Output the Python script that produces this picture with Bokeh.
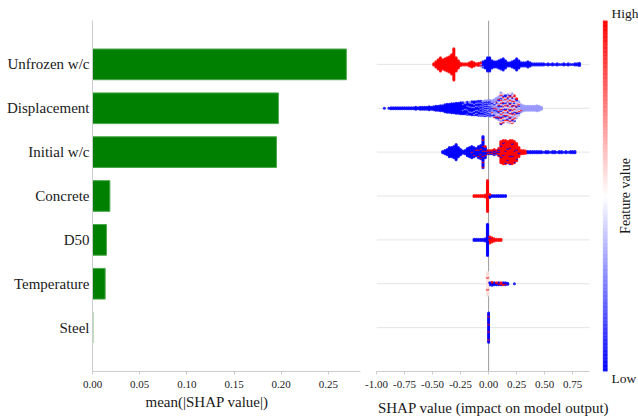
import numpy as np
from bokeh.plotting import figure
from bokeh.layouts import row
from bokeh.models import (Range1d, FixedTicker, PrintfTickFormatter, Span, ColumnDataSource,
                          Label, Title)
from bokeh.transform import linear_cmap
from bokeh.embed import file_html
from bokeh.resources import INLINE

# ---------------------------------------------------------------- data
FEATURES = ["Unfrozen w/c", "Displacement", "Initial w/c", "Concrete",
            "D50", "Temperature", "Steel"]
MEAN_ABS_SHAP = [0.269, 0.197, 0.195, 0.0184, 0.0148, 0.0134, 0.0004]

BAR_TICKS = [0.00, 0.05, 0.10, 0.15, 0.20, 0.25]
SWARM_TICKS = [-1.00, -0.75, -0.50, -0.25, 0.00, 0.25, 0.50, 0.75]
SWARM_LIMITS = (-1.0, 0.9)

# SHAP values are binned at 0.02; each list holds the number of samples per
# bin (starting at the feature's first bin), split by feature-value level.
BIN_WIDTH = 0.02
LEVELS = {"low": 0.0, "mid": 0.3, "pale": 0.56, "high": 1.0}

UNFROZEN_START = -0.49
UNFROZEN_HIGH = [2, 6, 10, 14, 10, 12, 14, 16, 20, 32, 14, 8, 3, 2, 2, 2, 4, 6, 4, 2, 3, 2]
UNFROZEN_MID = [0] * 21 + [2, 1]
UNFROZEN_LOW = [0] * 22 + [5, 8, 14, 14, 8, 6, 6, 8, 10, 12, 8, 4, 4, 6, 8, 12, 8, 4, 4, 4,
                           6, 4, 2, 2, 2, 2, 2, 2, 1, 2, 1, 2, 1, 2, 1, 1, 2, 1, 2, 1, 1,
                           2, 2, 3]

DISPLACEMENT_START = -0.93
DISPLACEMENT_LOW = [1, 0, 1, 2, 2, 2, 2, 2, 2, 2, 2, 2, 2, 2, 3, 2, 3, 3, 3, 3, 4, 3, 4,
                    5, 5, 6, 6, 8, 9, 9, 10, 10, 11, 11, 12,
                    10, 10, 10, 10, 11, 10, 10, 11, 10,
                    8, 8, 7, 7, 3, 3, 3, 4, 5, 5, 4, 4, 4, 4, 3, 3, 2]
DISPLACEMENT_MID = [0] * 35 + [2, 2, 3, 3, 3, 4, 4, 4, 5, 7, 8, 9, 10, 11, 12, 13, 14,
                               11, 10, 9, 10, 10, 10, 9, 8, 6, 7, 6, 5, 5, 5, 5, 5, 6, 5, 3]
DISPLACEMENT_PALE = [0] * 48 + [1, 1, 2, 2, 9, 9, 8, 8, 9, 9, 8, 6, 4]
DISPLACEMENT_HIGH = [0] * 48 + [1, 2, 3, 4, 7, 6, 5, 6, 7, 7, 6, 3, 2, 1]

INITIAL_START = -0.41
INITIAL_LOW = [2, 4, 6, 10, 10, 12, 16, 10, 6, 3, 4, 8, 10,
               11, 9, 7, 10, 11, 26, 9, 2, 2, 2, 3, 2, 3,
               2, 2, 2, 2, 3, 2, 2, 2, 1, 0, 0, 0,
               2, 2, 2, 2, 2, 2, 2, 1, 2, 2, 1, 2, 2, 1, 2, 2, 1, 2, 1, 2, 2, 2]
INITIAL_HIGH = [0] * 13 + [1, 1, 1, 2, 3, 6, 3, 2, 2, 2, 3, 2, 5,
                           20, 22, 22, 20, 21, 22, 20, 16, 9, 4, 4, 3]

CONCRETE_START = -0.13
CONCRETE_HIGH = [2, 2, 2, 2, 2, 3, 32, 1]
CONCRETE_LOW = [0, 0, 0, 0, 0, 0, 0, 3, 2, 2, 2, 2, 2, 2, 2]

D50_START = -0.13
D50_LOW = [2, 2, 2, 2, 2, 3, 32, 1]
D50_HIGH = [0, 0, 0, 0, 0, 0, 0, 6, 5, 3, 2, 2, 2]

TEMPERATURE_START = -0.01
TEMPERATURE_PALE = [22]
TEMPERATURE_HIGH = [2, 0, 1, 0, 1, 1, 2, 2, 1]
TEMPERATURE_LOW = [0, 3, 3, 3, 2, 2, 1, 1, 2, 2, 0, 0, 1]

STEEL_START = 0.0
STEEL_LOW = [26]
STEEL_HIGH = [4]

SWARMS = [
    (UNFROZEN_START, {"low": UNFROZEN_LOW, "mid": UNFROZEN_MID, "high": UNFROZEN_HIGH}),
    (DISPLACEMENT_START, {"low": DISPLACEMENT_LOW, "mid": DISPLACEMENT_MID,
                          "pale": DISPLACEMENT_PALE, "high": DISPLACEMENT_HIGH}),
    (INITIAL_START, {"low": INITIAL_LOW, "high": INITIAL_HIGH}),
    (CONCRETE_START, {"low": CONCRETE_LOW, "high": CONCRETE_HIGH}),
    (D50_START, {"low": D50_LOW, "high": D50_HIGH}),
    (TEMPERATURE_START, {"low": TEMPERATURE_LOW, "pale": TEMPERATURE_PALE, "high": TEMPERATURE_HIGH}),
    (STEEL_START, {"low": STEEL_LOW, "high": STEEL_HIGH}),
]

# ---------------------------------------------------------------- styling
SERIF = "Liberation Serif"
TEXT = "#1a1a1a"
SPINE = "#cccccc"
DOT_STEP = 0.0228          # vertical spacing of stacked dots, in row units
Y_LIMITS = (-1, 7)


def bwr(t):
    if t < 0.5:
        c = int(round(510 * t))
        return "#%02x%02x%02x" % (c, c, 255)
    c = int(round(510 * (1 - t)))
    return "#%02x%02x%02x" % (255, c, c)


BWR = [bwr(i / 255) for i in range(256)]

n_feat = len(FEATURES)
row_pos = [n_feat - 1 - i for i in range(n_feat)]


def style_xaxis(ax, ticks):
    ax.ticker = FixedTicker(ticks=ticks)
    ax.formatter = PrintfTickFormatter(format="%.2f")
    ax.axis_line_color = SPINE
    ax.major_tick_line_color = SPINE
    ax.major_tick_out = 3
    ax.major_tick_in = 0
    ax.minor_tick_line_color = None
    ax.major_label_text_font = SERIF
    ax.major_label_text_font_size = "11px"
    ax.major_label_text_color = TEXT
    ax.major_label_standoff = 6
    ax.axis_label_text_font = SERIF
    ax.axis_label_text_font_size = "15px"
    ax.axis_label_text_font_style = "normal"
    ax.axis_label_text_color = TEXT


def side_text(fig, text, place, offset, standoff, size="15px"):
    fig.add_layout(Title(text=text, align="left", offset=offset, standoff=standoff,
                         text_font=SERIF, text_font_size=size, text_font_style="normal",
                         text_color=TEXT), place)


# ---------------------------------------------------------------- bar panel
bar_fig = figure(width=362, height=419, x_range=Range1d(0, 0.284), y_range=Range1d(*Y_LIMITS),
                 output_backend="svg", toolbar_location=None,
                 min_border_left=92, min_border_right=2, min_border_top=20, min_border_bottom=48)
bar_fig.outline_line_color = None
bar_fig.xgrid.visible = False
bar_fig.ygrid.visible = False
bar_src = ColumnDataSource(dict(y=row_pos, v=MEAN_ABS_SHAP))
bar_fig.hbar(y="y", right="v", left=0, height=0.7, source=bar_src,
             fill_color="#008000", line_color="#4ca64c", line_width=1)
style_xaxis(bar_fig.xaxis[0], BAR_TICKS)
side_text(bar_fig, "mean(|SHAP value|)", "below", 53, 2)
ya = bar_fig.yaxis[0]
ya.ticker = FixedTicker(ticks=row_pos)
ya.major_label_overrides = {p: name for p, name in zip(row_pos, FEATURES)}
ya.axis_line_color = SPINE
ya.major_tick_line_color = None
ya.major_tick_out = 0
ya.major_tick_in = 0
ya.minor_tick_line_color = None
ya.major_label_standoff = 3
ya.major_label_text_font = SERIF
ya.major_label_text_font_size = "15px"
ya.major_label_text_color = TEXT

# ---------------------------------------------------------------- beeswarm panel
xs, ys, fvs, keys = [], [], [], []
for rpos, (start, groups) in zip(row_pos, SWARMS):
    n_bins = max(len(c) for c in groups.values())
    for b in range(n_bins):
        members = []
        for level, counts in groups.items():
            c = counts[b] if b < len(counts) else 0
            for i in range(c):
                # spread each level evenly over the stack, phase-shifted per bin
                members.append((((i + 0.5) / c + 0.618 * b) % 1.0, LEVELS[level]))
        members.sort()
        n = len(members)
        for j, (key, fv) in enumerate(members):
            xs.append(round(start + b * BIN_WIDTH, 3))
            ys.append(rpos + (j - (n - 1) / 2) * DOT_STEP)
            fvs.append(fv)
            keys.append(key)
order = np.argsort(keys, kind="stable")
swarm_src = ColumnDataSource(dict(x=np.array(xs)[order], y=np.array(ys)[order],
                                  fv=np.array(fvs)[order]))

# the frame runs on past the SHAP axis to hold the colour bar
swarm_fig = figure(width=248, height=419, x_range=Range1d(SWARM_LIMITS[0], 1.087),
                   y_range=Range1d(*Y_LIMITS),
                   output_backend="svg", toolbar_location=None, y_axis_location=None,
                   min_border_left=14, min_border_right=0, min_border_top=20, min_border_bottom=48)
swarm_fig.outline_line_color = None
swarm_fig.xgrid.visible = False
swarm_fig.ygrid.visible = False
swarm_fig.segment(x0=SWARM_LIMITS[0], x1=SWARM_LIMITS[1], y0=row_pos, y1=row_pos,
                  line_color="#e4e4e4", line_width=1, level="underlay")
swarm_fig.add_layout(Span(location=0, dimension="height", line_color="#999999",
                          line_width=1, level="underlay"))
swarm_fig.scatter("x", "y", source=swarm_src, size=3,
                  fill_color=linear_cmap("fv", BWR, 0, 1), line_color=None, fill_alpha=0.85)
sx = swarm_fig.xaxis[0]
style_xaxis(sx, SWARM_TICKS)
sx.bounds = SWARM_LIMITS
sx.axis_label = "SHAP value (impact on model output)"
sx.axis_label_standoff = 9

# colour bar: one thin quad per palette entry, spanning the full row range
step = (Y_LIMITS[1] - Y_LIMITS[0]) / len(BWR)
cb_src = ColumnDataSource(dict(
    bottom=[Y_LIMITS[0] + i * step for i in range(len(BWR))],
    top=[Y_LIMITS[0] + (i + 1) * step for i in range(len(BWR))],
    color=BWR))
swarm_fig.quad(left=1.022, right=1.058, top="top", bottom="bottom", fill_color="color",
               line_color="color", line_width=0.5, source=cb_src)

# ---------------------------------------------------------------- colour bar labels
cbar_fig = figure(width=28, height=419, x_range=Range1d(0, 28), y_range=Range1d(0, 1),
                  output_backend="svg", toolbar_location=None,
                  x_axis_location=None, y_axis_location=None, min_border=0,
                  min_border_left=0, min_border_right=0, min_border_top=20, min_border_bottom=48)
cbar_fig.outline_line_color = None
cbar_fig.xgrid.visible = False
cbar_fig.ygrid.visible = False
side_text(cbar_fig, "High", "above", 1, 0, "13.5px")
side_text(cbar_fig, "Low", "below", 1, -6, "13.5px")
cbar_fig.add_layout(Label(x=15, y=0.5, text="Feature value", angle=np.pi / 2,
                          text_font=SERIF, text_font_size="14px", text_color=TEXT,
                          text_align="center", text_baseline="middle"))

layout = row(bar_fig, swarm_fig, cbar_fig, spacing=0)
open("out.html", "w").write(file_html(layout, INLINE))
